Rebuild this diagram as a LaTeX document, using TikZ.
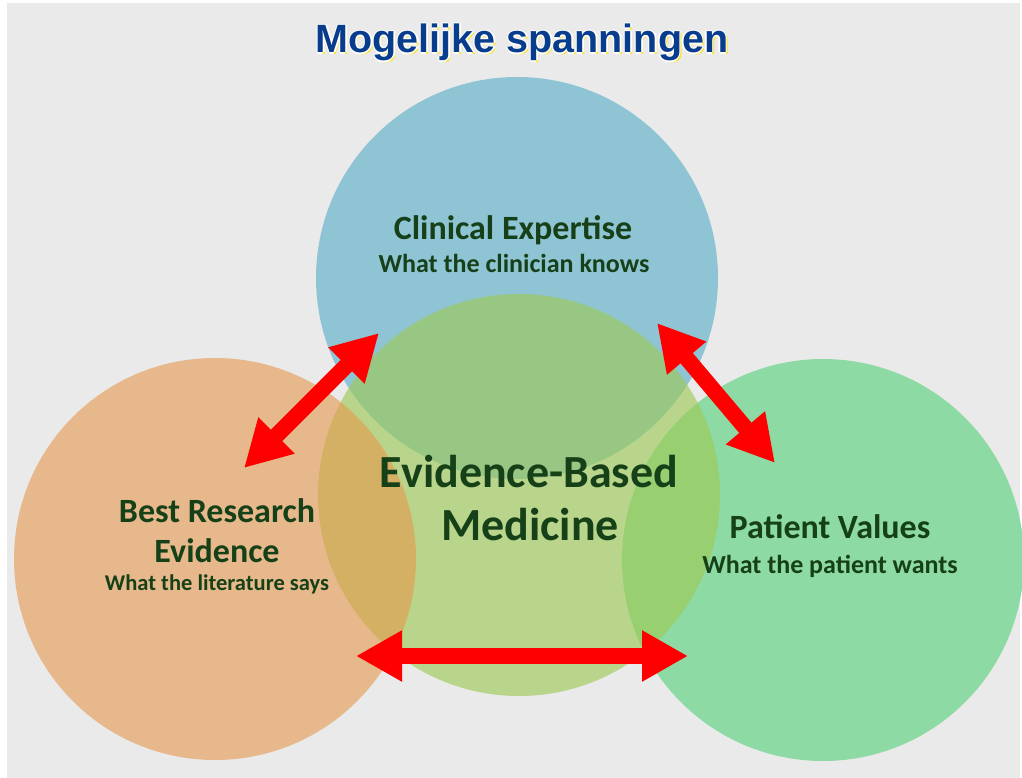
\documentclass[tikz,border=0pt]{standalone}
\usepackage{fontspec}
\setmainfont{Carlito}
\newfontfamily\titlefont{Liberation Sans}
\usetikzlibrary{arrows.meta, positioning}
\definecolor{bgGray}{RGB}{234,234,234}
\definecolor{expertBlue}{RGB}{143,196,212}
\definecolor{patientGreen}{RGB}{141,218,164}
\definecolor{ebmGreen}{RGB}{157,202,84}
\definecolor{researchOrange}{RGB}{230,152,77}
\definecolor{textGreen}{RGB}{22,64,24}
\definecolor{titleBlue}{RGB}{8,60,140}
\definecolor{titleYellow}{RGB}{250,228,40}
\definecolor{arrowRed}{RGB}{255,0,0}
\tikzset{
  bubble/.style={circle, minimum size=402pt, inner sep=0pt},
  headtext/.style={anchor=base, text=textGreen, font=\bfseries\fontsize{34}{40}\selectfont},
  subtext/.style={anchor=base, text=textGreen, font=\bfseries\fontsize{26}{30}\selectfont},
  bigtext/.style={anchor=base, text=textGreen, font=\bfseries\fontsize{46}{54}\selectfont},
  titletext/.style={anchor=base, font=\titlefont\bfseries\fontsize{39.5}{46}\selectfont},
  pullarrow/.style={{Triangle[length=46pt,width=48pt]}-{Triangle[length=46pt,width=48pt]}, line width=16pt, draw=arrowRed}
}

\begin{document}
\begin{tikzpicture}[x=1pt, y=-1pt]
    \fill[white] (0,0) rectangle (1022,778);
    \fill[bgGray] (7,3) rectangle (1020,778);
    \useasboundingbox (0,0) rectangle (1022,778);

    \node[titletext, text=titleYellow] (shadow) at (524,55) {Mogelijke spanningen};
    \foreach \dx/\dy [count=\k] in {-1.5/0, 1.5/0, 0/-1.5, 0/1.5}
      \node[titletext, text=white] (halo\k) at (522+\dx,53+\dy) {Mogelijke spanningen};
    \node[titletext, text=titleBlue] (title) at (522,53) {Mogelijke spanningen};

    \node[bubble, fill=expertBlue] (expert) at (517,278) {};
    \node[bubble, fill=patientGreen] (patient) at (823,560) {};
    \node[bubble, fill=ebmGreen, fill opacity=.63] (ebm) at (519,495) {};
    \node[bubble, fill=researchOrange, fill opacity=.6] (research) at (215,559) {};

    \node[headtext] (expertT) at (513,239) {Clinical Expertise};
    \node[subtext] (expertS) at (514,272) {What the clinician knows};
    \node[bigtext] (ebmT1) at (529,487) {Evidence-Based};
    \node[bigtext] (ebmT2) at (530,540) {Medicine};
    \node[headtext] (researchT1) at (217,522) {Best Research};
    \node[headtext] (researchT2) at (217,562) {Evidence};
    \node[subtext, font=\bfseries\fontsize{22.5}{26}\selectfont] (researchS) at (217,590) {What the literature says};
    \node[headtext] (patientT) at (830,538) {Patient Values};
    \node[subtext] (patientS) at (830,573) {What the patient wants};

    \coordinate (leftA) at (244,468);
    \coordinate (leftB) at (379,333);
    \coordinate (rightA) at (657,323);
    \coordinate (rightB) at (775,463);
    \coordinate (lowA) at (356,656);
    \coordinate (lowB) at (688,656);
    \draw[pullarrow] (leftA) -- (leftB);
    \draw[pullarrow] (rightA) -- (rightB);
    \draw[pullarrow] (lowA) -- (lowB);
\end{tikzpicture}
\end{document}
